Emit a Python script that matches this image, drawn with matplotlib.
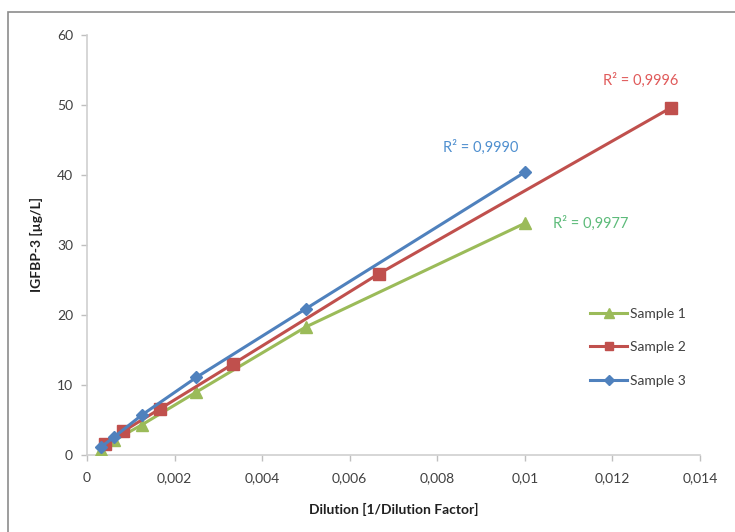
import matplotlib
matplotlib.use("Agg")
import matplotlib.pyplot as plt
from matplotlib.patches import Rectangle

plt.rcParams['font.family'] = ['Lato', 'DejaVu Sans']

# Data
x_s1 = [0.0003125, 0.000625, 0.00125, 0.0025, 0.005, 0.01]
y_s1 = [0.7, 2.1, 4.3, 9.0, 18.3, 33.1]
x_s2 = [0.000417, 0.000833, 0.001667, 0.003333, 0.006667, 0.013333]
y_s2 = [1.6, 3.4, 6.6, 13.0, 25.9, 49.6]
x_s3 = [0.0003125, 0.000625, 0.00125, 0.0025, 0.005, 0.01]
y_s3 = [1.1, 2.6, 5.7, 11.1, 20.9, 40.4]
series_names = ["Sample 1", "Sample 2", "Sample 3"]
r2_labels = ["R² = 0,9977", "R² = 0,9996", "R² = 0,9990"]
x_ticks = [0, 0.002, 0.004, 0.006, 0.008, 0.01, 0.012, 0.014]
x_tick_labels = ["0", "0,002", "0,004", "0,006", "0,008", "0,01", "0,012", "0,014"]
y_ticks = [0, 10, 20, 30, 40, 50, 60]

c1, c2, c3 = "#9BBB59", "#C0504D", "#4F81BD"

fig = plt.figure(figsize=(7.35, 5.32), dpi=100)
fig.patches.append(Rectangle((8/735, -0.1), 1.2, 1 - 12/532 + 0.1, transform=fig.transFigure,
                             fill=False, edgecolor="#8c8c8c", linewidth=1.2))
ax = fig.add_axes([87/735, 1 - 455/532, (700 - 87)/735, (455 - 35)/532])

ax.plot(x_s1, y_s1, color=c1, lw=2.2, marker="^", ms=9, label=series_names[0], zorder=3)
ax.plot(x_s2, y_s2, color=c2, lw=2.2, marker="s", ms=8, label=series_names[1], zorder=3)
ax.plot(x_s3, y_s3, color=c3, lw=2.2, marker="D", ms=6.5, label=series_names[2], zorder=4)

ax.set_xlim(0, 0.014)
ax.set_ylim(0, 60)
ax.set_xticks(x_ticks)
ax.set_xticklabels(x_tick_labels)
ax.set_yticks(y_ticks)
ax.tick_params(axis='both', colors="#bfbfbf", labelcolor="#404040", labelsize=10, length=4, width=1)
ax.tick_params(axis='x', pad=8)
ax.tick_params(axis='y', pad=6)
for s in ["top", "right"]:
    ax.spines[s].set_visible(False)
for s in ["left", "bottom"]:
    ax.spines[s].set_color("#d0d0d0")
    ax.spines[s].set_linewidth(1.2)

ax.set_xlabel("Dilution [1/Dilution Factor]", fontsize=10, fontweight="bold", labelpad=14, color="#202020")
ax.set_ylabel("IGFBP-3 [µg/L]", fontsize=10, fontweight="bold", labelpad=10, color="#202020")

ax.annotate(r2_labels[0], xy=(x_s1[-1], y_s1[-1]), xytext=(20, 0), textcoords="offset points",
            color="#5DBB7A", fontsize=10.5, va="center", ha="left")
ax.annotate(r2_labels[1], xy=(x_s2[-1], y_s2[-1]), xytext=(-22, 20), textcoords="offset points",
            color="#E05A5A", fontsize=10.5, va="center", ha="center")
ax.annotate(r2_labels[2], xy=(x_s3[-1], y_s3[-1]), xytext=(-32, 18), textcoords="offset points",
            color="#4F8FCF", fontsize=10.5, va="center", ha="center")

leg = ax.legend(loc="center left", bbox_to_anchor=(0.80, 0.257), frameon=False, fontsize=10,
                handlelength=2.7, labelspacing=1.55, handletextpad=0.2, markerscale=0.8)
for t in leg.get_texts():
    t.set_color("#404040")

fig.savefig("out.png", dpi=100)
